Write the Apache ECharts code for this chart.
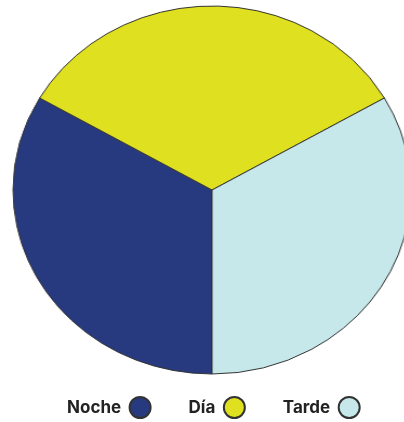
<!DOCTYPE html>
<html>
<head>
<meta charset="utf-8">
<script src="https://cdn.jsdelivr.net/npm/echarts@6/dist/echarts.min.js"></script>
<style>
  html, body { margin: 0; padding: 0; background: #fff; overflow: hidden; }
  #wrap { position: relative; width: 404px; height: 422px; overflow: hidden; }
  #pie { position: absolute; left: 0; top: 0; width: 404px; height: 422px;
         transform: scaleX(1.0815); transform-origin: 212px 190px; }
  #legend { position: absolute; left: 0; top: 0; width: 404px; height: 422px; }
</style>
</head>
<body>
<div id="wrap">
  <div id="pie"></div>
  <div id="legend"></div>
</div>
<script>
const categories = ['Noche', 'Día', 'Tarde'];
const values = [1, 1, 1];
const colors = ['#283a7f', '#dfe01f', '#c6e8ea'];

const pieData = categories.map((name, i) => ({
  name: name,
  value: values[i],
  itemStyle: { color: colors[i] }
}));

// pie drawn as a circle, stretched horizontally by css to match the oval
const pieChart = echarts.init(document.getElementById('pie'));
pieChart.setOption({
  animation: false,
  series: [{
    type: 'pie',
    center: [212, 190],
    radius: [0, 184],
    startAngle: 270,
    clockwise: true,
    label: { show: false },
    labelLine: { show: false },
    itemStyle: { borderColor: '#333', borderWidth: 1 },
    emphasis: { disabled: true },
    data: pieData
  }]
});

// legend in its own chart so it is not stretched
const legendChart = echarts.init(document.getElementById('legend'));
legendChart.setOption({
  animation: false,
  legend: {
    top: 396,
    left: 67,
    padding: 0,
    align: 'right',
    icon: 'circle',
    itemWidth: 22,
    itemHeight: 21,
    itemGap: 37,
    selectedMode: false,
    textStyle: {
      fontFamily: 'Inter',
      fontWeight: 'bold',
      fontSize: 17,
      color: '#222',
      padding: [0, 3, 0, 0]
    },
    data: categories
  },
  series: [{
    type: 'pie',
    center: [-100, -100],
    radius: [0, 0],
    silent: true,
    label: { show: false },
    labelLine: { show: false },
    itemStyle: { borderColor: '#333', borderWidth: 1 },
    data: pieData
  }]
});
</script>
</body>
</html>
